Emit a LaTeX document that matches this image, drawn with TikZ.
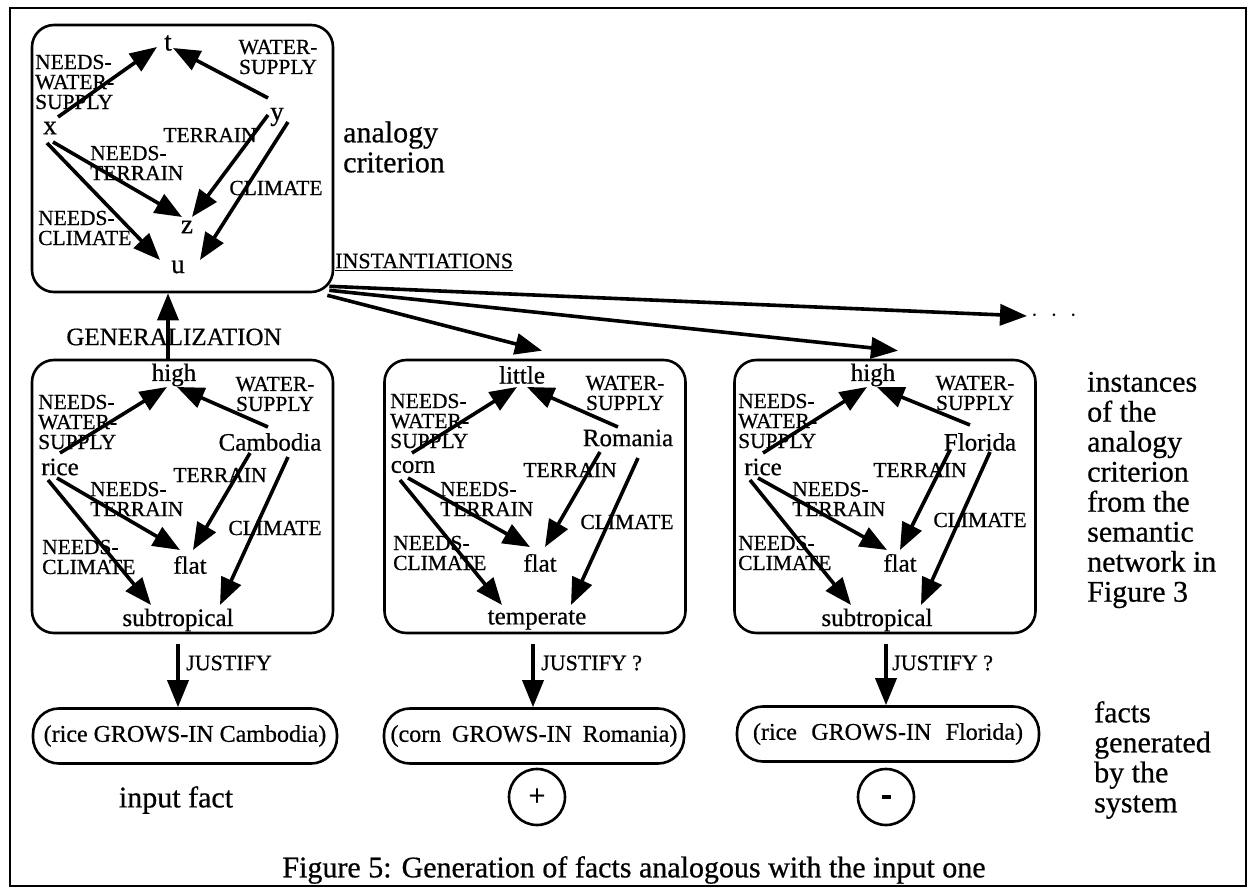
\documentclass[tikz,border=0pt]{standalone}
\usepackage{fontspec}
\setmainfont{Liberation Serif}
\newfontfamily\tmsf[FakeBold=0.6]{Liberation Serif}
\usetikzlibrary{arrows.meta,calc}
\begin{document}
\begin{tikzpicture}[x=1pt,y=-1pt,
  arr/.style={line width=3.6pt,-{Triangle[length=27pt,width=21pt]}},
  lbl/.style={font=\tmsf\fontsize{21.5}{20}\selectfont, inner sep=0pt, align=left},
  nd/.style={font=\tmsf\fontsize{25}{25}\selectfont, inner sep=1pt},
  ndl/.style={font=\tmsf\fontsize{27}{27}\selectfont, inner sep=1pt},
  big/.style={font=\tmsf\fontsize{30}{30}\selectfont, inner sep=0pt, align=left},
  jst/.style={font=\tmsf\fontsize{22}{22}\selectfont, inner sep=0pt, anchor=west},
  box/.style={draw, line width=2.6pt, rounded corners=22pt, minimum width=301pt, inner sep=0pt},
  fact/.style={draw, line width=2.6pt, rounded corners=26pt, minimum height=55pt, inner sep=0pt, font=\tmsf\fontsize{24}{24}\selectfont},
  circ/.style={draw, circle, line width=2.6pt, minimum size=56pt, inner sep=0pt, font=\tmsf\fontsize{30}{30}\selectfont}
]
\useasboundingbox (0,0) rectangle (1248,890);
\fill[white] (0,0) rectangle (1248,890);
\draw[line width=2pt] (10,8) rectangle (1246,886);

% ---------- top box ----------
\node[box, minimum height=267pt] (topbox) at (182.5,158.5) {};
\node[ndl] (nt) at (168,43) {t};
\node[ndl] (nx) at (50,128) {x};
\node[ndl] (ny) at (277,117) {y};
\node[ndl] (nz) at (187,227) {z};
\node[ndl] (nu) at (178,267) {u};
\node[lbl,anchor=west] (tnws) at (35,82) {NEEDS-\\WATER-\\SUPPLY};
\node[lbl,align=center] (tws) at (278,57) {WATER-\\SUPPLY};
\node[lbl] (tter) at (210,135) {TERRAIN};
\node[lbl,anchor=west] (tnt) at (90,163) {NEEDS-\\TERRAIN};
\node[lbl] (tcl) at (276,188) {CLIMATE};
\node[lbl,anchor=west] (tnc) at (38,228) {NEEDS-\\CLIMATE};
\draw[arr] ([shift={(8,-11)}]nx.center) -- ([shift={(-11,4)}]nt.center);
\draw[arr] ([shift={(-9,-19)}]ny.center) -- ([shift={(5,5)}]nt.center);
\draw[arr] ([shift={(3,14)}]nx.center) -- ([shift={(-5,-10)}]nz.center);
\draw[arr] ([shift={(-9,-2)}]ny.center) -- ([shift={(5,-10)}]nz.center);
\draw[arr] ([shift={(-3,15)}]nx.center) -- ([shift={(-18,-7)}]nu.center);
\draw[arr] ([shift={(11,5)}]ny.center) -- ([shift={(22,-7)}]nu.center);
\node[big,anchor=west] (ac) at (343,147) {analogy\\criterion};

% ---------- box 1 ----------
\node[box, minimum height=273pt] (box1) at (182.5,496.5) {};
\node[nd] (h1) at (174,375) {high};
\node[nd] (r1) at (60,467) {rice};
\node[nd] (c1) at (270,442) {Cambodia};
\node[nd] (f1) at (190,565) {flat};
\node[nd] (s1) at (178,620) {subtropical};
\node[lbl,anchor=west] (b1nws) at (38,422) {NEEDS-\\WATER-\\SUPPLY};
\node[lbl,align=center] (b1ws) at (275,394) {WATER-\\SUPPLY};
\node[lbl] (b1ter) at (220,475) {TERRAIN};
\node[lbl,anchor=west] (b1nt) at (90,499) {NEEDS-\\TERRAIN};
\node[lbl] (b1cl) at (275,528) {CLIMATE};
\node[lbl,anchor=west] (b1nc) at (42,557) {NEEDS-\\CLIMATE};
\draw[arr] ([shift={(0,-14)}]r1.center) -- ([shift={(-7,12)}]h1.center);
\draw[arr] ([shift={(-2,-15)}]c1.center) -- ([shift={(3,12)}]h1.center);
\draw[arr] ([shift={(-3,11)}]r1.center) -- ([shift={(-10,-15)}]f1.center);
\draw[arr] ([shift={(-20,11)}]c1.center) -- ([shift={(3,-15)}]f1.center);
\draw[arr] ([shift={(-12,13)}]r1.center) -- ([shift={(-27,-15)}]s1.center);
\draw[arr] ([shift={(18,15)}]c1.center) -- ([shift={(42,-15)}]s1.center);

% ---------- box 2 ----------
\node[box, minimum height=273pt] (box2) at (535,496.5) {};
\node[nd] (h2) at (522,375) {little};
\node[nd] (r2) at (413,467) {corn};
\node[nd] (c2) at (628,438) {Romania};
\node[nd] (f2) at (540,563) {flat};
\node[nd] (s2) at (537,620) {temperate};
\node[lbl,anchor=west] (b2nws) at (390,421) {NEEDS-\\WATER-\\SUPPLY};
\node[lbl,align=center] (b2ws) at (625,393) {WATER-\\SUPPLY};
\node[lbl] (b2ter) at (570,470) {TERRAIN};
\node[lbl,anchor=west] (b2nt) at (440,499) {NEEDS-\\TERRAIN};
\node[lbl] (b2cl) at (627,522) {CLIMATE};
\node[lbl,anchor=west] (b2nc) at (393,553) {NEEDS-\\CLIMATE};
\draw[arr] ([shift={(-1,-14)}]r2.center) -- ([shift={(-5,12)}]h2.center);
\draw[arr] ([shift={(-10,-11)}]c2.center) -- ([shift={(5,12)}]h2.center);
\draw[arr] ([shift={(-5,11)}]r2.center) -- ([shift={(-10,-16)}]f2.center);
\draw[arr] ([shift={(-28,14)}]c2.center) -- ([shift={(5,-16)}]f2.center);
\draw[arr] ([shift={(-13,13)}]r2.center) -- ([shift={(-35,-15)}]s2.center);
\draw[arr] ([shift={(10,20)}]c2.center) -- ([shift={(34,-15)}]s2.center);

% ---------- box 3 ----------
\node[box, minimum height=273pt] (box3) at (885,496.5) {};
\node[nd] (h3) at (873,375) {high};
\node[nd] (r3) at (763,467) {rice};
\node[nd] (c3) at (980,442) {Florida};
\node[nd] (f3) at (900,563) {flat};
\node[nd] (s3) at (877,620) {subtropical};
\node[lbl,anchor=west] (b3nws) at (738,421) {NEEDS-\\WATER-\\SUPPLY};
\node[lbl,align=center] (b3ws) at (975,393) {WATER-\\SUPPLY};
\node[lbl] (b3ter) at (920,470) {TERRAIN};
\node[lbl,anchor=west] (b3nt) at (792,499) {NEEDS-\\TERRAIN};
\node[lbl] (b3cl) at (980,520) {CLIMATE};
\node[lbl,anchor=west] (b3nc) at (738,553) {NEEDS-\\CLIMATE};
\draw[arr] ([shift={(0,-14)}]r3.center) -- ([shift={(-6,12)}]h3.center);
\draw[arr] ([shift={(-10,-17)}]c3.center) -- ([shift={(4,12)}]h3.center);
\draw[arr] ([shift={(-5,11)}]r3.center) -- ([shift={(-13,-13)}]f3.center);
\draw[arr] ([shift={(-30,8)}]c3.center) -- ([shift={(0,-13)}]f3.center);
\draw[arr] ([shift={(-13,13)}]r3.center) -- ([shift={(-26,-15)}]s3.center);
\draw[arr] ([shift={(10,10)}]c3.center) -- ([shift={(44,-15)}]s3.center);

% ---------- generalization / instantiations ----------
\node[font=\tmsf\fontsize{25}{25}\selectfont, inner sep=0pt] (gen) at (174,337) {GENERALIZATION};
\draw[arr] ([xshift=-14.5pt]box1.north) -- ([xshift=-14.5pt]topbox.south);
\node[font=\tmsf\fontsize{22}{22}\selectfont, inner sep=0pt, anchor=west] (inst) at (335,262) {\underline{INSTANTIATIONS}};
\node[font=\fontsize{26}{26}\selectfont, inner sep=0pt] (dots) at (1054,316) {$\cdot\;\cdot\;\cdot$};
\draw[arr] ([shift={(-5,-7)}]topbox.south east) -- ([xshift=-4pt]dots.west);
\draw[arr] ([shift={(-5,-3)}]topbox.south east) -- ([shift={(13,-8)}]box3.north);
\draw[arr] ([shift={(-7,2)}]topbox.south east) -- ([shift={(7,-8)}]box2.north);

% ---------- facts ----------
\node[fact, minimum width=304pt] (fact1) at (185,736) {(rice GROWS-IN Cambodia)};
\node[fact, minimum width=300pt] (fact2) at (534,736) {(corn\hspace{0.45em}GROWS-IN\hspace{0.45em}Romania)};
\node[fact, minimum width=302pt] (fact3) at (888,734) {(rice\hspace{0.6em}GROWS-IN\hspace{0.6em}Florida)};
\draw[arr] ([shift={(-4.5,10)}]box1.south) -- ([xshift=-7pt]fact1.north);
\draw[arr] ([shift={(-2,10)}]box2.south) -- ([xshift=-1pt]fact2.north);
\draw[arr] ([shift={(1,10)}]box3.south) -- ([xshift=-2pt]fact3.north);
\node[jst] (j1) at (186,663) {JUSTIFY};
\node[jst] (j2) at (541,663) {JUSTIFY ?};
\node[jst] (j3) at (892,663) {JUSTIFY ?};
\node[big] (inp) at (176,800) {input fact};
\node[circ] (plus) at (537,797) {+};
\node[circ] (minus) at (886,797) {\rule{9pt}{3.5pt}};

% ---------- side texts ----------
\node[big,anchor=west] (inst2) at (1087,490) {instances\\of the\\analogy\\criterion\\from the\\semantic\\network in\\Figure 3};
\node[big,anchor=west] (fgen) at (1094,760) {facts\\generated\\by the\\system};
\node[big] (cap) at (634,870) {Figure 5: Generation of facts analogous with the input one};
\end{tikzpicture}
\end{document}
